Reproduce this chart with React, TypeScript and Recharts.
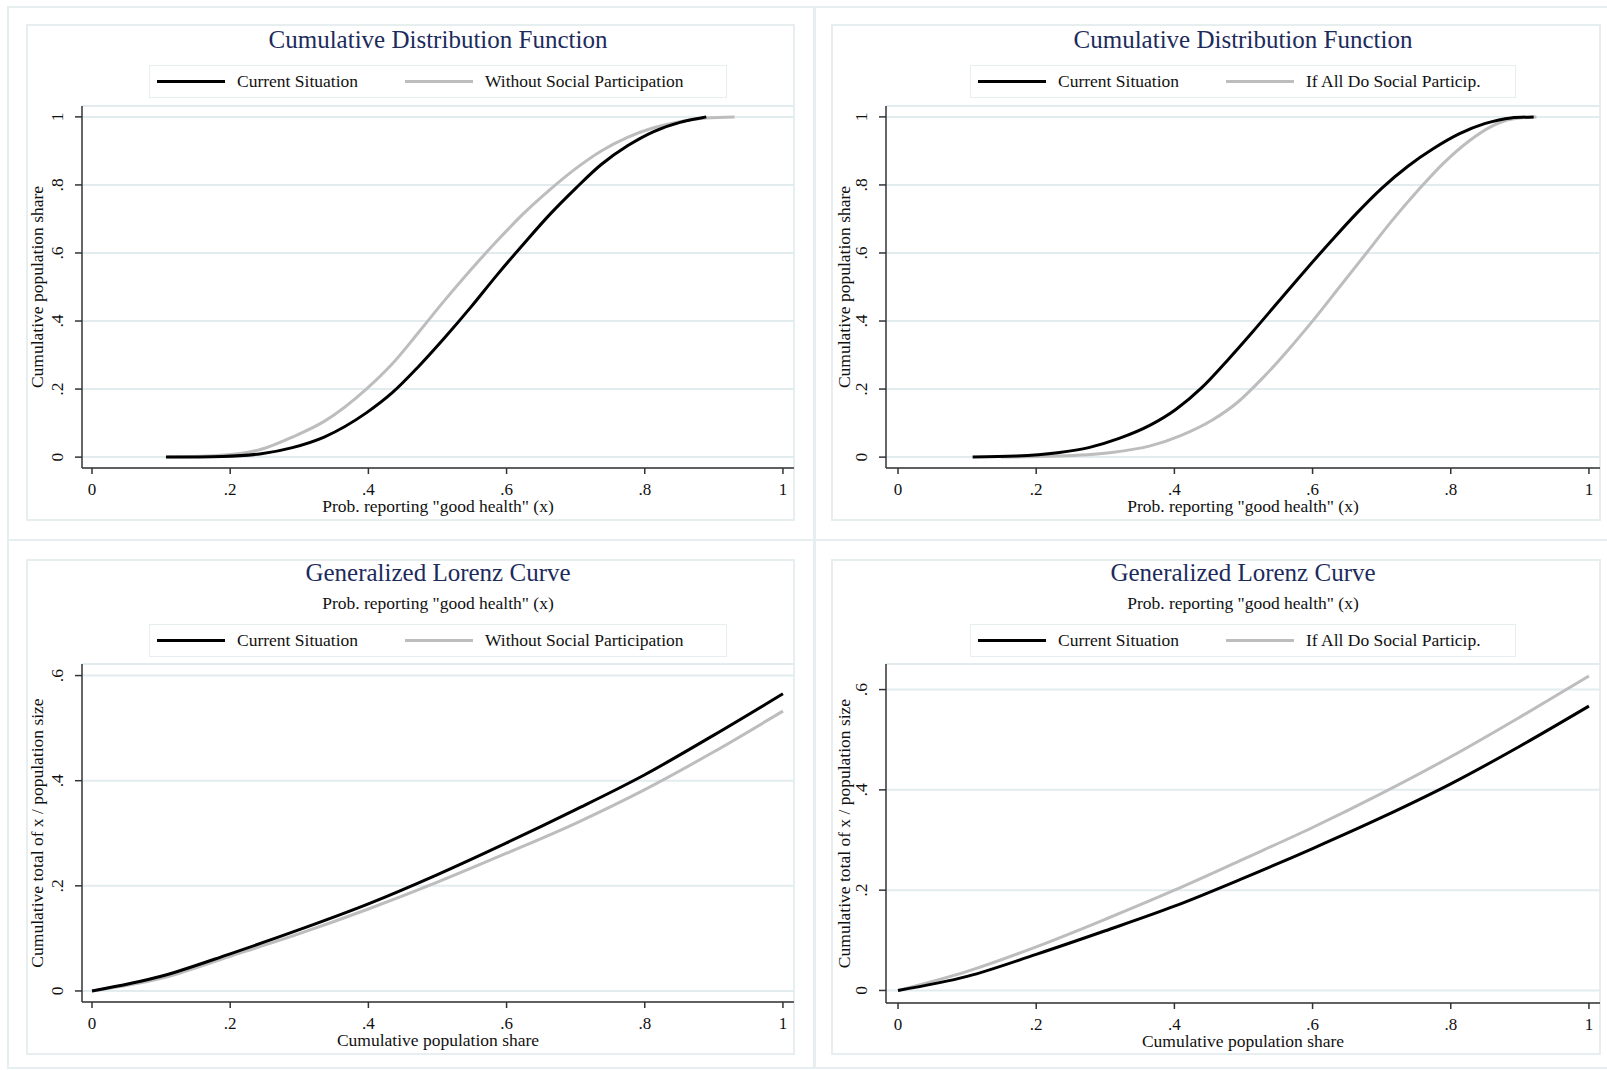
import React from "react";
import { CartesianGrid, Line, LineChart, XAxis, YAxis } from "recharts";

// tick values
const probTicks = [0, 0.2, 0.4, 0.6, 0.8, 1];
const shareTicks = [0, 0.2, 0.4, 0.6, 0.8, 1];
const glcTicks = [0, 0.2, 0.4, 0.6];

// CDF, current situation vs. without social participation
const cdfCurrentX = [0.107, 0.188, 0.245, 0.29, 0.336, 0.397, 0.435, 0.472, 0.51, 0.548, 0.586, 0.624, 0.662, 0.7, 0.737, 0.775, 0.813, 0.851, 0.881, 0.889];
const cdfCurrentY = [0, 0.002, 0.01, 0.028, 0.059, 0.13, 0.19, 0.265, 0.35, 0.44, 0.535, 0.625, 0.712, 0.79, 0.86, 0.915, 0.957, 0.984, 0.997, 1];
const cdfWithoutX = [0.109, 0.192, 0.245, 0.29, 0.336, 0.397, 0.435, 0.472, 0.51, 0.548, 0.586, 0.624, 0.662, 0.7, 0.737, 0.775, 0.813, 0.851, 0.889, 0.93];
const cdfWithoutY = [0, 0.006, 0.023, 0.059, 0.105, 0.2, 0.275, 0.365, 0.46, 0.55, 0.635, 0.715, 0.785, 0.848, 0.9, 0.94, 0.968, 0.986, 0.997, 1];

// CDF, current situation vs. if all do social participation
const cdfCurrent2X = [0.108, 0.171, 0.231, 0.276, 0.32, 0.365, 0.402, 0.44, 0.477, 0.514, 0.551, 0.589, 0.626, 0.663, 0.7, 0.738, 0.775, 0.812, 0.849, 0.887, 0.92];
const cdfCurrent2Y = [0, 0.003, 0.013, 0.028, 0.055, 0.094, 0.14, 0.205, 0.285, 0.37, 0.458, 0.548, 0.633, 0.715, 0.79, 0.855, 0.907, 0.95, 0.98, 0.997, 1];
const cdfAllDoX = [0.149, 0.231, 0.306, 0.365, 0.41, 0.455, 0.492, 0.529, 0.566, 0.604, 0.641, 0.678, 0.715, 0.753, 0.79, 0.827, 0.857, 0.887, 0.924];
const cdfAllDoY = [0, 0.003, 0.013, 0.033, 0.064, 0.109, 0.162, 0.235, 0.318, 0.41, 0.505, 0.6, 0.695, 0.785, 0.865, 0.93, 0.97, 0.993, 1];

// generalized Lorenz curves
const glcShare = [0, 0.1, 0.2, 0.3, 0.4, 0.5, 0.6, 0.7, 0.8, 0.9, 1];
const glcCurrentY = [0, 0.028, 0.0707, 0.1166, 0.1657, 0.2214, 0.2817, 0.345, 0.4114, 0.4867, 0.5653];
const glcWithoutY = [0, 0.024, 0.066, 0.109, 0.1559, 0.207, 0.262, 0.319, 0.383, 0.455, 0.5325];
const glcCurrent2Y = [0, 0.028, 0.072, 0.119, 0.168, 0.224, 0.283, 0.345, 0.412, 0.487, 0.567];
const glcAllDoY = [0, 0.038, 0.087, 0.142, 0.2, 0.262, 0.325, 0.393, 0.466, 0.545, 0.627];

const zip = (xs: number[], ys: number[]) => xs.map((x, i) => ({ x, y: ys[i] }));
const fmt = (v: number) => String(v).replace(/^0\./, ".");

const NAVY = "#1c2b5c";
const GRID = "#e2ecef";
const BOX = "#e6eef0";
const GRAY = "#bdbdbd";
const FONT = "'Liberation Serif', 'Times New Roman', serif";
const X_AXIS_H = 56;

function RotTick(props: any) {
  const { x, y, payload } = props;
  return (
    <text
      x={0}
      y={0}
      transform={`translate(${x},${y}) rotate(-90)`}
      textAnchor="middle"
      dy="0.35em"
      fontSize={17.5}
      fill="#111"
    >
      {fmt(payload.value)}
    </text>
  );
}

interface PanelProps {
  innerLeft: number;
  plotLeft: number;
  plotRight: number;
  plotTop: number;
  plotBottom: number;
  xDomain: [number, number];
  yDomain: [number, number];
  yTicks: number[];
  title: string;
  titleY: number;
  subtitle?: string;
  legendTop: number;
  legendLeft: number;
  legendWidth: number;
  otherLabel: string;
  xLabel: string;
  yLabel: string;
  yLabelX: number;
  current: { x: number; y: number }[];
  other: { x: number; y: number }[];
}

function Panel(p: PanelProps) {
  const mid = (p.plotLeft + p.plotRight) / 2;
  const w = p.plotRight - p.innerLeft;
  const h = 4 + p.plotBottom - p.plotTop + X_AXIS_H;
  return (
    <>
      <div
        style={{
          position: "absolute",
          left: mid - 400,
          width: 800,
          top: p.titleY - 16,
          lineHeight: "32px",
          textAlign: "center",
          fontSize: 25,
          color: NAVY,
        }}
      >
        {p.title}
      </div>
      {p.subtitle && (
        <div
          style={{
            position: "absolute",
            left: mid - 400,
            width: 800,
            top: p.titleY + 30 - 12,
            lineHeight: "24px",
            textAlign: "center",
            fontSize: 17.5,
            color: "#111",
          }}
        >
          {p.subtitle}
        </div>
      )}
      <div
        style={{
          position: "absolute",
          left: p.legendLeft,
          top: p.legendTop,
          width: p.legendWidth,
          height: 33,
          boxSizing: "border-box",
          border: `1.5px solid ${BOX}`,
          display: "flex",
          alignItems: "center",
          paddingLeft: 7,
          fontSize: 17.5,
          color: "#111",
          whiteSpace: "nowrap",
        }}
      >
        <div style={{ width: 68, height: 3, background: "#000", marginRight: 12 }} />
        <span>Current Situation</span>
        <div style={{ width: 68, height: 3, background: GRAY, marginLeft: 47, marginRight: 12 }} />
        <span>{p.otherLabel}</span>
      </div>
      <div style={{ position: "absolute", left: p.innerLeft, top: p.plotTop - 4 }}>
        <LineChart width={w} height={h} margin={{ top: 4, right: 0, bottom: 0, left: 0 }}>
          <CartesianGrid horizontal vertical={false} stroke={GRID} strokeWidth={2} />
          <XAxis
            type="number"
            dataKey="x"
            domain={p.xDomain}
            ticks={probTicks}
            allowDataOverflow
            tickFormatter={fmt}
            height={X_AXIS_H}
            tickSize={6}
            tickMargin={9}
            stroke="#333"
            strokeWidth={1.5}
            tick={{ fontSize: 17, fill: "#111" }}
            label={{
              value: p.xLabel,
              position: "insideBottom",
              offset: 12,
              style: { fontSize: 17.5, fill: "#111" },
            }}
          />
          <YAxis
            type="number"
            dataKey="y"
            domain={p.yDomain}
            ticks={p.yTicks}
            allowDataOverflow
            width={p.plotLeft - p.innerLeft}
            tickSize={7}
            tickMargin={18}
            stroke="#333"
            strokeWidth={1.5}
            tick={<RotTick />}
            label={{
              value: p.yLabel,
              angle: -90,
              position: "insideLeft",
              offset: p.yLabelX,
              style: { fontSize: 17.5, fill: "#111", textAnchor: "middle" },
            }}
          />
          <Line
            data={p.other}
            dataKey="y"
            type="monotone"
            stroke={GRAY}
            strokeWidth={3}
            dot={false}
            isAnimationActive={false}
          />
          <Line
            data={p.current}
            dataKey="y"
            type="monotone"
            stroke="#000"
            strokeWidth={3}
            dot={false}
            isAnimationActive={false}
          />
        </LineChart>
      </div>
    </>
  );
}

const box = (left: number, top: number, width: number, height: number, bw = 2): React.CSSProperties => ({
  position: "absolute",
  left,
  top,
  width,
  height,
  boxSizing: "border-box",
  border: `${bw}px solid ${BOX}`,
});

export default function App() {
  const probLabel = 'Prob. reporting "good health" (x)';
  return (
    <div
      style={{
        position: "absolute",
        left: 0,
        top: 0,
        width: 1607,
        height: 1070,
        overflow: "hidden",
        background: "#fff",
        fontFamily: FONT,
      }}
    >
      <div style={box(7, 6, 809, 535)} />
      <div style={box(813, 6, 810, 535)} />
      <div style={box(7, 539, 809, 530)} />
      <div style={box(813, 539, 810, 530)} />
      <div style={box(26, 24, 769, 497)} />
      <div style={box(831, 24, 770, 497)} />
      <div style={box(26, 559, 769, 496)} />
      <div style={box(831, 559, 770, 496)} />

      <Panel
        innerLeft={27}
        plotLeft={82}
        plotRight={794}
        plotTop={106}
        plotBottom={468}
        xDomain={[-0.0145, 1.016]}
        yDomain={[-0.032, 1.032]}
        yTicks={shareTicks}
        title="Cumulative Distribution Function"
        titleY={40}
        legendLeft={149}
        legendTop={65}
        legendWidth={578}
        otherLabel="Without Social Participation"
        xLabel={probLabel}
        yLabel="Cumulative population share"
        yLabelX={10}
        current={zip(cdfCurrentX, cdfCurrentY)}
        other={zip(cdfWithoutX, cdfWithoutY)}
      />
      <Panel
        innerLeft={832}
        plotLeft={886}
        plotRight={1600}
        plotTop={106}
        plotBottom={468}
        xDomain={[-0.0174, 1.016]}
        yDomain={[-0.032, 1.032]}
        yTicks={shareTicks}
        title="Cumulative Distribution Function"
        titleY={40}
        legendLeft={970}
        legendTop={65}
        legendWidth={546}
        otherLabel="If All Do Social Particip."
        xLabel={probLabel}
        yLabel="Cumulative population share"
        yLabelX={12}
        current={zip(cdfCurrent2X, cdfCurrent2Y)}
        other={zip(cdfAllDoX, cdfAllDoY)}
      />
      <Panel
        innerLeft={27}
        plotLeft={82}
        plotRight={794}
        plotTop={664}
        plotBottom={1002}
        xDomain={[-0.0145, 1.016]}
        yDomain={[-0.021, 0.622]}
        yTicks={glcTicks}
        title="Generalized Lorenz Curve"
        titleY={573}
        subtitle={probLabel}
        legendLeft={149}
        legendTop={624}
        legendWidth={578}
        otherLabel="Without Social Participation"
        xLabel="Cumulative population share"
        yLabel="Cumulative total of x / population size"
        yLabelX={10}
        current={zip(glcShare, glcCurrentY)}
        other={zip(glcShare, glcWithoutY)}
      />
      <Panel
        innerLeft={832}
        plotLeft={886}
        plotRight={1600}
        plotTop={664}
        plotBottom={1003}
        xDomain={[-0.0174, 1.016]}
        yDomain={[-0.025, 0.651]}
        yTicks={glcTicks}
        title="Generalized Lorenz Curve"
        titleY={573}
        subtitle={probLabel}
        legendLeft={970}
        legendTop={624}
        legendWidth={546}
        otherLabel="If All Do Social Particip."
        xLabel="Cumulative population share"
        yLabel="Cumulative total of x / population size"
        yLabelX={12}
        current={zip(glcShare, glcCurrent2Y)}
        other={zip(glcShare, glcAllDoY)}
      />
    </div>
  );
}
